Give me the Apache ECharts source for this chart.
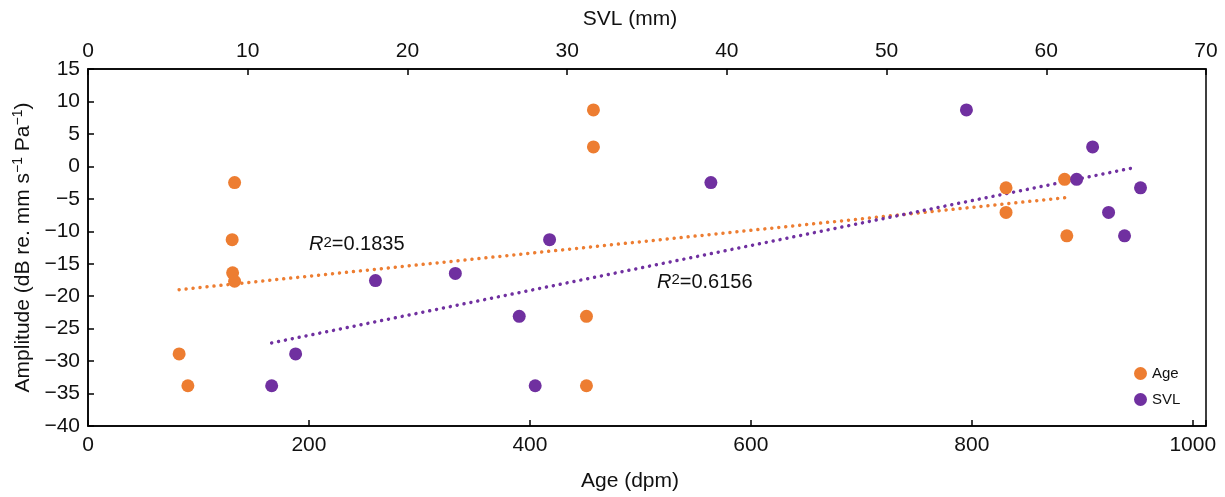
<!DOCTYPE html>
<html>
<head>
    <meta charset="utf-8">
    <title>Amplitude vs Age / SVL</title>
    <script src="https://cdn.jsdelivr.net/npm/echarts@6/dist/echarts.min.js"></script>
    <style>
        html, body { margin: 0; padding: 0; background: #fff; }
        #chart { width: 1225px; height: 497px; }
    </style>
</head>
<body>
<div id="chart"></div>
<script>
    // amplitude values, same individuals for both series
    var agePts = [[132.7, -2.5], [130.5, -11.3], [130.9, -16.4], [132.7, -17.7], [82.5, -28.9], [90.4, -33.8],
        [457.5, 8.7], [457.5, 3.0], [451.2, -23.1], [451.2, -33.8], [831, -3.3], [831, -7.1], [884, -2.0], [886, -10.7]];
    var svlPts = [[11.5, -33.8], [13.0, -28.9], [18.0, -17.6], [23.0, -16.5], [27.0, -23.1], [28.0, -33.8],
        [28.9, -11.3], [39.0, -2.5], [55.0, 8.7], [62.9, 3.0], [61.9, -2.0], [65.9, -3.3], [63.9, -7.1], [64.9, -10.7]];
    // trend line ends
    var ageTrend = [[82.5, -19.0], [886, -4.8]];
    var svlTrend = [[11.5, -27.2], [65.5, -0.2]];
    var ageR2 = '0.1835', svlR2 = '0.6156';

    var ORANGE = '#ED7D31', PURPLE = '#7030A0';
    var font = 'Liberation Sans, Arial, sans-serif';

    var chart = echarts.init(document.getElementById('chart'));
    var axisCommon = {
        axisLine: { onZero: false, lineStyle: { color: '#000', width: 1.5 } },
        axisTick: { inside: true, length: 6, lineStyle: { color: '#000', width: 1.5 } },
        axisLabel: { color: '#111', fontSize: 21, fontFamily: font },
        splitLine: { show: false },
        nameTextStyle: { color: '#111', fontSize: 21, fontFamily: font }
    };

    var option = {
        animation: false,
        grid: { left: 88, right: 19, top: 69, bottom: 70, show: true, borderColor: '#000', borderWidth: 1.5 },
        legend: {
            data: ['Age', 'SVL'],
            orient: 'vertical',
            left: 1129, top: 361,
            icon: 'circle', itemWidth: 13, itemHeight: 13, itemGap: 11,
            textStyle: { fontSize: 15, color: '#111', fontFamily: font }
        },
        xAxis: [
            echarts.util.merge({
                type: 'value', position: 'bottom', min: 0, max: 1012, interval: 200,
                name: 'Age (dpm)', nameLocation: 'middle', nameGap: 45,
                nameTextStyle: { padding: [0, 34, 0, 0] },
                axisLabel: { margin: 9, formatter: function (v) { return v % 200 === 0 ? v : ''; } }
            }, axisCommon),
            echarts.util.merge({
                type: 'value', position: 'top', min: 0, max: 70, interval: 10,
                name: 'SVL (mm)', nameLocation: 'middle', nameGap: 39,
                nameTextStyle: { padding: [0, 34, 0, 0] },
                axisLabel: { margin: 7 }
            }, axisCommon)
        ],
        yAxis: echarts.util.merge({
            type: 'value', min: -40, max: 15, interval: 5,
            name: 'Amplitude (dB re. mm s{sup|\u22121} Pa{sup|\u22121})', nameLocation: 'middle', nameGap: 53,
            nameTextStyle: {
                rich: { sup: { fontSize: 14, fontFamily: font, color: '#111', padding: [0, 0, 9, 0] } }
            },
            axisLabel: { margin: 8, formatter: function (v) { return String(v).replace('-', '\u2212'); } }
        }, axisCommon),
        series: [
            {
                name: 'Age trend', type: 'line', xAxisIndex: 0, data: ageTrend, symbol: 'none', z: 1,
                lineStyle: { color: ORANGE, width: 3.5, type: [0.01, 7], cap: 'round' }
            },
            {
                name: 'SVL trend', type: 'line', xAxisIndex: 1, data: svlTrend, symbol: 'none', z: 1,
                lineStyle: { color: PURPLE, width: 3.5, type: [0.01, 7], cap: 'round' }
            },
            {
                name: 'Age', type: 'scatter', xAxisIndex: 0, data: agePts, symbolSize: 13, z: 3,
                itemStyle: { color: ORANGE, opacity: 1 }
            },
            {
                name: 'SVL', type: 'scatter', xAxisIndex: 1, data: svlPts, symbolSize: 13, z: 3,
                itemStyle: { color: PURPLE, opacity: 1 }
            }
        ]
    };
    chart.setOption(option);

    // R² annotations anchored to data coordinates
    function r2Text(pos, val) {
        var p = chart.convertToPixel({ xAxisIndex: 0, yAxisIndex: 0 }, pos);
        return {
            type: 'text', x: p[0], y: p[1],
            style: {
                text: '{i|R}{s|2}{n|=' + val + '}',
                verticalAlign: 'middle',
                rich: {
                    i: { fontSize: 20, fontStyle: 'italic', fontFamily: font, fill: '#111' },
                    s: { fontSize: 15, fontFamily: font, fill: '#111', padding: [0, 0, 5, 0] },
                    n: { fontSize: 20, fontFamily: font, fill: '#111' }
                }
            }
        };
    }
    chart.setOption({ graphic: [r2Text([200, -12.1], ageR2), r2Text([515, -17.9], svlR2)] });
</script>
</body>
</html>
